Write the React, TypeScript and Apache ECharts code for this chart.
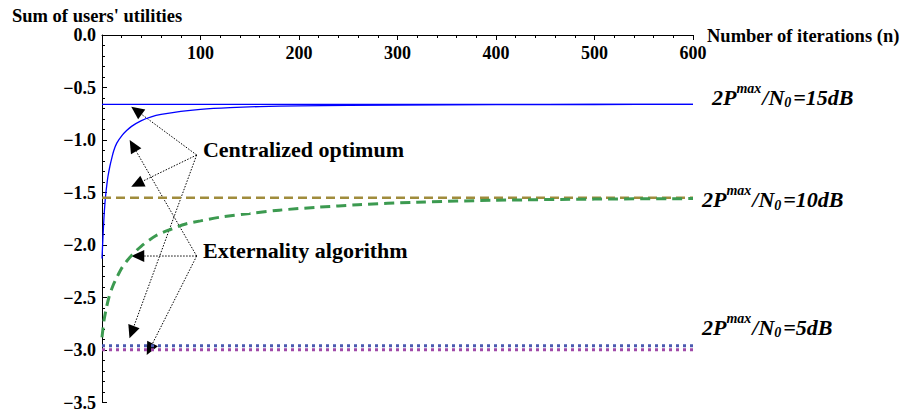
import { useEffect, useRef } from 'react';
import * as echarts from 'echarts';

// ---- data ----
const xTicks = [0, 100, 200, 300, 400, 500, 600];
const yTicks = [0, -0.5, -1.0, -1.5, -2.0, -2.5, -3.0, -3.5];

// 15 dB
const opt15N = [0, 600];
const opt15V = [-0.66, -0.66];
const alg15N = [0, 1, 2, 3, 4, 5, 6, 8, 10, 12, 15, 20, 25, 30, 40, 50, 60, 80, 100, 130, 160, 200, 300, 400, 500, 600];
const alg15V = [-2.13, -1.92, -1.74, -1.6, -1.5, -1.42, -1.35, -1.25, -1.17, -1.1, -1.03, -0.96, -0.91, -0.87, -0.815, -0.78, -0.757, -0.727, -0.708, -0.692, -0.682, -0.675, -0.667, -0.664, -0.662, -0.661];

// 10 dB
const opt10N = [0, 600];
const opt10V = [-1.551, -1.551];
const alg10N = [0, 2, 4, 7, 11, 15, 20, 25, 30, 40, 55, 70, 85, 100, 120, 150, 180, 220, 260, 320, 400, 500, 600];
const alg10V = [-2.88, -2.72, -2.62, -2.5, -2.39, -2.31, -2.22, -2.155, -2.1, -2.01, -1.91, -1.85, -1.8, -1.77, -1.735, -1.7, -1.668, -1.64, -1.617, -1.592, -1.574, -1.563, -1.558];

// 5 dB
const opt5N = [0, 600];
const opt5V = [-2.96, -2.96];
const alg5N = [0, 600];
const alg5V = [-2.997, -2.997];

// annotation anchors (data coords)
const centralTextPos = [102.5, -1.086];
const centralFrom = [96.1, -1.143];
const centralTips = [[29.7, -0.683], [29.7, -1.445], [27.9, -2.889]];
const externTextPos = [102.5, -2.057];
const externFrom = [96.1, -2.105];
const externTips = [[28.1, -1.0], [29.7, -2.105], [45.4, -3.048]];

const snrLabels = ['15', '10', '5'];
const snrLabelY = [-0.604, -1.577, -2.793];

const FONT = 'Liberation Serif, Times New Roman, serif';

const zip = (n: number[], v: number[]) => n.map((x, i) => [x, v[i]]);

export default function App() {
  const ref = useRef<HTMLDivElement>(null);
  useEffect(() => {
    document.body.style.margin = '0';
    const chart = echarts.init(ref.current!, null, { renderer: 'svg' });
    const option: any = {
      animation: false,
      backgroundColor: '#fff',
      grid: { left: 102, right: 212, top: 35, bottom: 12.5, containLabel: false, outerBoundsMode: 'none' },
      xAxis: {
        type: 'value',
        position: 'top',
        min: xTicks[0],
        max: xTicks[xTicks.length - 1],
        interval: 100,
        axisLine: { show: true, onZero: false, lineStyle: { color: '#000', width: 1 } },
        axisTick: { show: true, inside: true, length: 5, lineStyle: { color: '#000' } },
        minorTick: { show: true, splitNumber: 5, length: 3, lineStyle: { color: '#000' } },
        splitLine: { show: false },
        axisLabel: {
          inside: true,
          margin: 9,
          fontFamily: FONT,
          fontWeight: 'bold',
          fontSize: 18,
          color: '#000',
          formatter: (v: number) => (v === 0 ? '' : String(v)),
        },
      },
      yAxis: {
        type: 'value',
        min: yTicks[yTicks.length - 1],
        max: yTicks[0],
        interval: 0.5,
        axisLine: { show: true, onZero: false, lineStyle: { color: '#000', width: 1 } },
        axisTick: { show: true, inside: true, length: 5, lineStyle: { color: '#000' } },
        minorTick: { show: true, splitNumber: 5, length: 3, lineStyle: { color: '#000' } },
        splitLine: { show: false },
        axisLabel: {
          margin: 6,
          fontFamily: FONT,
          fontWeight: 'bold',
          fontSize: 18,
          color: '#000',
          formatter: (v: number) => v.toFixed(1).replace('-', '\u2212'),
        },
      },
      series: [
        {
          type: 'line', data: zip(opt15N, opt15V), showSymbol: false,
          lineStyle: { color: '#0000ff', width: 1.3 },
        },
        {
          type: 'line', data: zip(alg15N, alg15V), showSymbol: false, smooth: 0.3,
          lineStyle: { color: '#0000ff', width: 1.3 },
        },
        {
          type: 'line', data: zip(opt10N, opt10V), showSymbol: false,
          lineStyle: { color: '#a08c3c', width: 2.5, type: [9, 5] },
        },
        {
          type: 'line', data: zip(alg10N, alg10V), showSymbol: false, smooth: 0.3,
          lineStyle: { color: '#3c9a50', width: 3, type: [10, 6] },
        },
        {
          type: 'line', data: zip(opt5N, opt5V), showSymbol: false,
          lineStyle: { color: '#4a5ab0', width: 3, type: [3, 4] },
        },
        {
          type: 'line', data: zip(alg5N, alg5V), showSymbol: false,
          lineStyle: { color: '#a04aa8', width: 3, type: [3, 4] },
        },
      ],
    };
    chart.setOption(option);

    const px = (p: number[]) => chart.convertToPixel({ gridIndex: 0 }, p) as number[];
    const g: any[] = [];

    g.push({
      type: 'text', x: 12, y: 15.5,
      style: { text: "Sum of users' utilities", fontFamily: FONT, fontWeight: 'bold', fontSize: 18.5, fill: '#000', verticalAlign: 'middle', align: 'left' },
    });
    const axisEnd = px([xTicks[xTicks.length - 1], yTicks[0]]);
    g.push({
      type: 'text', x: axisEnd[0] + 14, y: axisEnd[1] + 1,
      style: { text: 'Number of iterations (n)', fontFamily: FONT, fontWeight: 'bold', fontSize: 18.5, fill: '#000', verticalAlign: 'middle', align: 'left' },
    });

    const arrow = (from: number[], tip: number[]) => {
      const s = px(from);
      const t = px(tip);
      const dx = t[0] - s[0];
      const dy = t[1] - s[1];
      const len = Math.hypot(dx, dy);
      const ux = dx / len, uy = dy / len;
      const L = 13, W = 6;
      const bx = t[0] - ux * L, by = t[1] - uy * L;
      g.push({
        type: 'line',
        shape: { x1: s[0], y1: s[1], x2: bx, y2: by },
        style: { stroke: '#000', lineWidth: 1, lineDash: [1.5, 1.5] },
      });
      g.push({
        type: 'polygon',
        shape: { points: [[t[0], t[1]], [bx - uy * W, by + ux * W], [bx + uy * W, by - ux * W]] },
        style: { fill: '#000' },
      });
    };
    centralTips.forEach((t) => arrow(centralFrom, t));
    externTips.forEach((t) => arrow(externFrom, t));

    const ct = px(centralTextPos);
    g.push({
      type: 'text', x: ct[0], y: ct[1],
      style: { text: 'Centralized optimum', fontFamily: FONT, fontWeight: 'bold', fontSize: 22, fill: '#000', verticalAlign: 'middle', align: 'left' },
    });
    const et = px(externTextPos);
    g.push({
      type: 'text', x: et[0], y: et[1],
      style: { text: 'Externality algorithm', fontFamily: FONT, fontWeight: 'bold', fontSize: 22, fill: '#000', verticalAlign: 'middle', align: 'left' },
    });

    // SNR labels with super/subscripts, placed just right of the plot's end
    const canvas = document.createElement('canvas');
    const ctx = canvas.getContext('2d')!;
    const measure = (t: string, size: number) => {
      ctx.font = `italic bold ${size}px ${FONT}`;
      return ctx.measureText(t).width;
    };
    const labelOffsetX = [19, 9, 9];
    snrLabels.forEach((db, i) => {
      const p = px([xTicks[xTicks.length - 1], snrLabelY[i]]);
      const pieces = [
        { t: '2P', s: 22, dy: -1, gap: 0 },
        { t: 'max', s: 14, dy: -9.7, gap: 1 },
        { t: '/N', s: 22, dy: -1, gap: 0 },
        { t: '0', s: 14, dy: 4.5, gap: 2 },
        { t: '=' + db + 'dB', s: 22, dy: -1, gap: 0 },
      ];
      let x = p[0] + labelOffsetX[i];
      pieces.forEach((pc) => {
        g.push({
          type: 'text', x, y: p[1] + pc.dy,
          style: { text: pc.t, fontFamily: FONT, fontStyle: 'italic', fontWeight: 'bold', fontSize: pc.s, fill: '#000', verticalAlign: 'middle', align: 'left' },
        });
        x += measure(pc.t, pc.s) + pc.gap;
      });
    });

    chart.setOption({ graphic: g });
    return () => chart.dispose();
  }, []);
  return <div ref={ref} style={{ position: 'absolute', left: 0, top: 0, width: 905, height: 415 }} />;
}
